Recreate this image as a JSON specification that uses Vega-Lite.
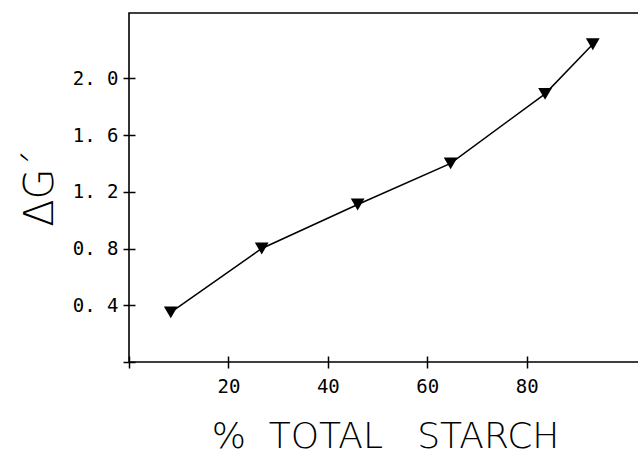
{
  "$schema": "https://vega.github.io/schema/vega-lite/v6.json",
  "width": 512,
  "height": 349,
  "autosize": "none",
  "padding": {"left": 129, "top": 13, "right": 0, "bottom": 94},
  "config": {
    "view": {"stroke": "black", "strokeWidth": 1.6},
    "axis": {
      "domainColor": "black", "tickColor": "black", "labelColor": "black", "titleColor": "black",
      "grid": false, "domain": false, "tickWidth": 1.5,
      "labelFont": "DejaVu Sans Mono", "titleFont": "DejaVu Sans", "labelFontWeight": "normal", "titleFontWeight": 200
    }
  },
  "data": {"values": [
    {"starch": 8.4, "dG": 0.35},
    {"starch": 26.7, "dG": 0.80},
    {"starch": 46.0, "dG": 1.11},
    {"starch": 64.7, "dG": 1.40},
    {"starch": 83.7, "dG": 1.89},
    {"starch": 93.3, "dG": 2.24}
  ]},
  "layer": [
    {
      "mark": {"type": "line", "color": "black", "strokeWidth": 1.5},
      "encoding": {
        "x": {"field": "starch", "type": "quantitative", "scale": {"domain": [0, 103.0], "nice": false, "zero": true},
          "axis": {"orient": "bottom", "offset": -6, "values": [0, 20, 40, 60, 80], "tickSize": 12, "labelExpr": "datum.value == 0 ? '' : datum.label",
            "labelFontSize": 19, "labelPadding": 9, "title": "%\u00a0\u00a0TOTAL\u00a0\u00a0\u00a0STARCH", "titleFontSize": 36, "titlePadding": 23}},
        "y": {"field": "dG", "type": "quantitative", "scale": {"domain": [0, 2.46], "nice": false, "zero": true},
          "axis": {"orient": "left", "offset": -6, "values": [0, 0.4, 0.8, 1.2, 1.6, 2.0], "tickSize": 12,
            "labelExpr": "datum.value == 0 ? '' : replace(format(datum.value, '.1f'), '.', '. ')",
            "labelFontSize": 19, "labelPadding": 5, "title": "ΔG´", "titleFontSize": 40, "titlePadding": 12}}
      }
    },
    {
      "mark": {"type": "point", "shape": "triangle-down", "filled": true, "color": "black", "size": 190, "opacity": 1},
      "encoding": {
        "x": {"field": "starch", "type": "quantitative"},
        "y": {"field": "dG", "type": "quantitative"}
      }
    }
  ]
}
